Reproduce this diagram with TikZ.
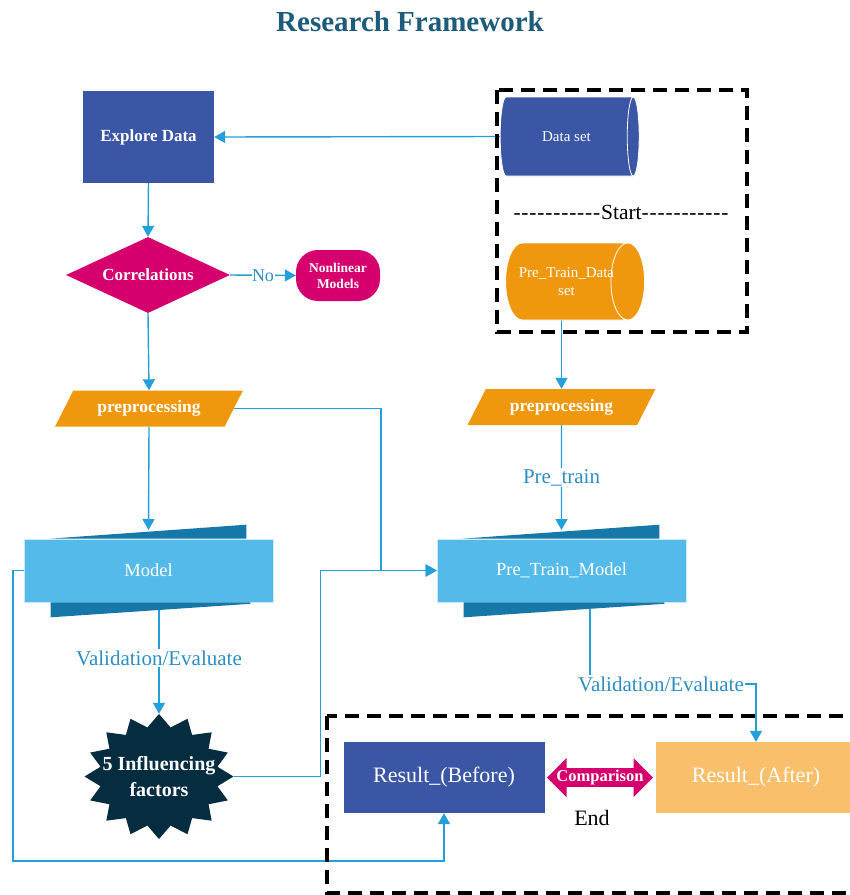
\documentclass[tikz,border=0pt]{standalone}
\usepackage{fontspec}
\setmainfont{Liberation Serif}
\usetikzlibrary{shapes.geometric,shapes.arrows,arrows.meta,calc}
\definecolor{dblue}{HTML}{3B56A5}
\definecolor{mag}{HTML}{D5006D}
\definecolor{orng}{HTML}{F0980D}
\definecolor{lblue}{HTML}{53BAEA}
\definecolor{bandc}{HTML}{1578A8}
\definecolor{starc}{HTML}{062C40}
\definecolor{afterc}{HTML}{F9BF6A}
\definecolor{arrc}{HTML}{239FDB}
\definecolor{labc}{HTML}{2D8EC4}
\definecolor{titlec}{HTML}{1D5B7A}
\newcommand\fsz[2]{\fontsize{#1}{#2}\selectfont}
\newcommand\hy{-\kern0.8pt}
\pgfdeclarelayer{bg}
\pgfsetlayers{bg,main}
\begin{document}
\begin{tikzpicture}[x=1pt,y=-1pt,
  box/.style={rectangle,inner sep=0pt,text=white,align=center},
  para/.style={trapezium,trapezium left angle=52,trapezium right angle=128,trapezium stretches=true,
    fill=orng,inner sep=0pt,minimum width=188pt,minimum height=36pt,text=white,font=\bfseries\fsz{17.5}{20}},
  cyl/.style={cylinder,shape border rotate=0,shape aspect=1.2,minimum height=139pt,draw=white,line width=0.8pt,
    text=white,inner sep=0pt,align=center,font=\fsz{15}{18}},
  modelbox/.style={rectangle,fill=lblue,draw=white!70!lblue,line width=0.6pt,minimum width=249pt,minimum height=63pt,
    inner sep=0pt,text=white,font=\fsz{18.5}{21}},
  band/.style={fill=bandc},
  arr/.style={draw=arrc,line width=1.4pt,-{Triangle[length=11pt,width=12pt]}},
  lbl/.style={text=labc,font=\fsz{21}{24},fill=white,inner sep=1.5pt},
  framebox/.style={draw=black,line width=3.2pt,dash pattern=on 14pt off 8pt}]
\useasboundingbox (0,0) rectangle (850,895);
\clip (0,0) rectangle (850,895);

% title
\node[text=titlec,font=\bfseries\fsz{29}{33}] (title) at (410,22) {Research Framework};

% frames
\draw[framebox] (497,90) rectangle (747,332);
\draw[framebox] (327,716) rectangle (870,893);

% left column
\node[box,fill=dblue,minimum width=131pt,minimum height=92pt,font=\bfseries\fsz{17}{20}] (explore) at (148.5,137) {Explore Data};
\node[diamond,aspect=2.16,fill=mag,minimum width=164pt,minimum height=76pt,inner sep=0pt,text=white,
  font=\bfseries\fsz{17}{20}] (corr) at (148,275) {Correlations};
\node[box,fill=mag,rounded corners=22pt,minimum width=84pt,minimum height=51pt,font=\bfseries\fsz{13.5}{16}] (nonlin) at (338,275.5) {Nonlinear\\Models};
\node[para] (pre1) at (149,408.5) {preprocessing};
\node[modelbox] (model) at (148.5,570.5) {Model};
\fill[band] ($(model.north west)+(26,0)$) -- ($(model.north east)+(-27,-14)$) -- ($(model.north east)+(-27,0)$) -- cycle;
\fill[band] ($(model.south west)+(27,0)$) -- ($(model.south east)+(-23,0)$) -- ($(model.south east)+(-23,1.5)$) -- ($(model.south west)+(27,15)$) -- cycle;
\coordinate (mtop) at (148.5,530);

% star
\node[minimum width=149pt,minimum height=125pt,inner sep=0pt] (star) at (159,776.5) {};
\fill[starc] ($(star.center)+(90:74.5 and 62.5)$)
  \foreach \i [evaluate=\i as \r using {mod(\i,2)==0 ? 1 : 0.8}] in {1,...,31} {
    -- ($(star.center)+({90+\i*11.25}:{\r*74.5} and {\r*62.5})$) } -- cycle;
\node[text=white,align=center,font=\bfseries\fsz{20}{26}] (startext) at (star.center) {5 Influencing\\factors};

% right column
\node[cyl,fill=dblue,minimum width=79pt] (dataset) at (566.5,136.5) {\makebox[70pt][c]{Data set}};
\node[text=black,font=\fsz{21.5}{24}] (startlbl) at (621,212) {\hy\hy\hy\hy\hy\hy\hy\hy\hy\hy\hy Start\hy\hy\hy\hy\hy\hy\hy\hy\hy\hy -};
\node[cyl,fill=orng,minimum width=77pt] (ds2) at (566.5,281.5) {\makebox[70pt][c]{Pre\_Train\_Data}\\\makebox[70pt][c]{set}};
\node[para] (pre2) at (561.5,407) {preprocessing};
\node[modelbox] (pretrain) at (561.5,570.5) {Pre\_Train\_Model};
\fill[band] ($(pretrain.north west)+(25,0)$) -- ($(pretrain.north east)+(-27,-14)$) -- ($(pretrain.north east)+(-27,0)$) -- cycle;
\fill[band] ($(pretrain.south west)+(27,0)$) -- ($(pretrain.south east)+(-22,0)$) -- ($(pretrain.south east)+(-22,1.5)$) -- ($(pretrain.south west)+(27,15)$) -- cycle;
\coordinate (ptop) at (561.5,530);

% results
\node[box,fill=dblue,minimum width=201pt,minimum height=71pt,font=\fsz{22}{25}] (before) at (444,777.5) {Result\_(Before)};
\node[box,fill=afterc,minimum width=200pt,minimum height=71pt,font=\fsz{22}{25}] (after) at (756,777.5) {Result\_(After)};
\node[double arrow,double arrow head extend=9.5pt,fill=mag,minimum height=106pt,minimum width=39pt,inner xsep=0pt,inner ysep=1pt,
  text=white,font=\bfseries\fsz{16.5}{19}] (comp) at (600,777.5) {\makebox[40pt][c]{Comparison}};
\node[text=black,font=\fsz{22}{25}] (endlbl) at (592,818) {End};

% connectors
\begin{pgfonlayer}{bg}
\draw[arr] (dataset.west) -- (explore.east);
\draw[arr] (explore.south) -- (corr.north);
\draw[arr] (corr.east) -- node[lbl,font=\fsz{18}{20},inner sep=0.5pt] {No} (nonlin.west);
\draw[arr] (corr.south) -- (pre1.north);
\draw[arr] (pre1.south) -- (mtop);
\draw[arr] (model.south -| star.north) -- node[lbl,pos=0.5] {Validation/Evaluate} (star.north);
\draw[arr] (model.west) -| (13,861) -| (before.south);
\draw[arr] (pre1.east) -| (381,570.5) -- (pretrain.west);
\draw[arr] (star.east) -| (320.5,570.5) -- (pretrain.west);
\draw[arr] (ds2.south -| pre2.north) -- (pre2.north);
\draw[arr] (pre2.south) -- node[lbl,pos=0.5] {Pre\_train} (ptop);
\draw[arr] (pretrain.south -| 590,0) -- (590,684) -| (after.north);
\node[lbl] (val2) at (661,684) {Validation/Evaluate};
\end{pgfonlayer}
\end{tikzpicture}
\end{document}
